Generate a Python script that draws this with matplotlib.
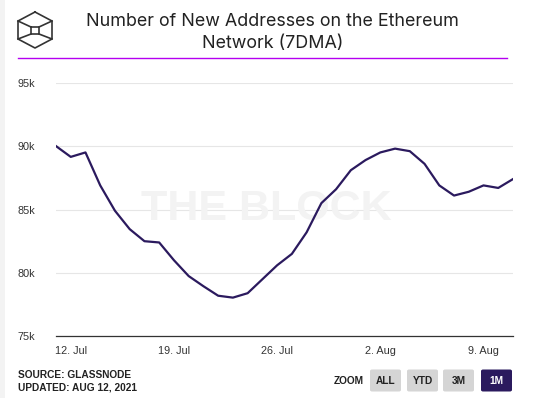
import numpy as np
import pandas as pd
import matplotlib
matplotlib.use("Agg")
import matplotlib.pyplot as plt
import matplotlib.dates as mdates
from matplotlib.patches import Rectangle, FancyBboxPatch
from matplotlib.lines import Line2D

# daily 7DMA of new Ethereum addresses, 11 Jul - 11 Aug 2021 (thousands)
dates = pd.date_range("2021-07-11", "2021-08-11", freq="D")
new_addresses_k = [
    90.0, 89.15, 89.5, 86.9, 84.9, 83.45, 82.5, 82.4, 81.0, 79.75,
    78.95, 78.2, 78.05, 78.4, 79.5, 80.6, 81.5, 83.2, 85.5, 86.6,
    88.1, 88.9, 89.5, 89.8, 89.6, 88.6, 86.9, 86.1, 86.4, 86.9,
    86.7, 87.4,
]
y_ticks = [75, 80, 85, 90, 95]
x_ticks = pd.to_datetime(["2021-07-12", "2021-07-19", "2021-07-26",
                          "2021-08-02", "2021-08-09"])
zoom_buttons = ["ALL", "YTD", "3M", "1M"]

line_color = "#2b1a5e"
W, H = 533, 398

fig = plt.figure(figsize=(W / 100, H / 100), dpi=100)
fig.patch.set_facecolor("white")

def fx(px):
    return px / W

def fy(py):
    return 1 - py / H

# thin grey strip on the left edge
fig.patches.append(Rectangle((0, 0), fx(5), 1, transform=fig.transFigure,
                             facecolor="#f3f3f3", edgecolor="none"))

ax = fig.add_axes([fx(56), fy(336.3), fx(513 - 56), fy(82.7) - fy(336.3)])
ax.plot(dates, new_addresses_k, color=line_color, lw=1.6, zorder=3,
        solid_joinstyle="round")
ax.set_xlim(dates[0], dates[-1])
ax.set_ylim(75, 95)
ax.set_yticks(y_ticks)
ax.set_yticklabels([f"{v}k" for v in y_ticks])
ax.set_xticks(x_ticks)
ax.xaxis.set_major_formatter(mdates.DateFormatter("%-d. %b"))
ax.grid(axis="y", color="#e6e6e6", lw=0.8)
ax.set_axisbelow(True)
for side in ["top", "right", "left"]:
    ax.spines[side].set_visible(False)
ax.spines["bottom"].set_color("#333333")
ax.spines["bottom"].set_linewidth(0.9)
ax.tick_params(axis="both", length=0, colors="#333333", labelsize=7.8)
ax.tick_params(axis="y", pad=15)
ax.tick_params(axis="x", pad=7)
for lab in ax.get_xticklabels() + ax.get_yticklabels():
    lab.set_fontfamily("Liberation Sans")

# watermark
ax.text(0.46, 0.5, "THE BLOCK", transform=ax.transAxes, ha="center",
        va="center", fontsize=31, fontweight="bold", color="#f3f3f3",
        family="Liberation Sans", zorder=1)

# title
fig.text(fx(272.5), fy(22), "Number of New Addresses on the Ethereum",
         ha="center", va="center", fontsize=12.9, color="#222222",
         family="Inter")
fig.text(fx(272.5), fy(44), "Network (7DMA)", ha="center", va="center",
         fontsize=12.9, color="#222222", family="Inter")
fig.lines.append(Line2D([fx(18), fx(507)], [fy(58), fy(58)],
                        transform=fig.transFigure, color="#b400f0", lw=1.0))

# cube logo
lc = "#333333"
logo = [
    [(35, 12), (52, 21), (52, 39), (35, 48), (18, 39), (18, 21), (35, 12)],
    [(31, 27), (39, 27), (39, 34), (31, 34), (31, 27)],
    [(18, 21), (31, 27)], [(52, 21), (39, 27)],
    [(18, 39), (31, 34)], [(52, 39), (39, 34)],
]
for seg in logo:
    xs, ys = zip(*seg)
    fig.lines.append(Line2D([fx(v) for v in xs], [fy(v) for v in ys],
                            transform=fig.transFigure, color=lc, lw=1.2))

# footer
fig.text(fx(18), fy(375), "SOURCE: GLASSNODE", fontsize=7.3, fontweight="bold",
         color="#222222", va="center", family="Liberation Sans")
fig.text(fx(18), fy(387), "UPDATED: AUG 12, 2021", fontsize=7.3,
         fontweight="bold", color="#222222", va="center", family="Liberation Sans")
fig.text(fx(349), fy(380.5), "ZOOM", fontsize=7.3, fontweight="bold",
         color="#222222", ha="center", va="center", family="Liberation Sans")
btn_left = [370, 407, 443, 481]
for name, left in zip(zoom_buttons, btn_left):
    active = name == "1M"
    fig.patches.append(FancyBboxPatch((fx(left), fy(391.5)), fx(31), fy(369.5) - fy(391.5),
                                      boxstyle="round,pad=0,rounding_size=0.004",
                                      transform=fig.transFigure,
                                      facecolor=line_color if active else "#d5d5d5",
                                      edgecolor="none"))
    fig.text(fx(left + 15.5), fy(380.5), name, fontsize=7.3, fontweight="bold",
             color="white" if active else "#222222", ha="center", va="center",
             family="Liberation Sans")

fig.savefig("out.png", dpi=100)
